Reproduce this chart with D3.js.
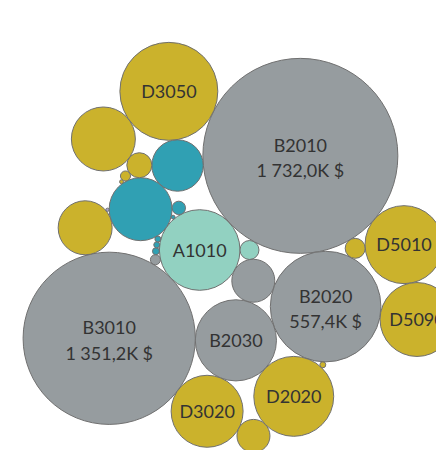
<!DOCTYPE html>
<html><head><meta charset="utf-8">
<script src="https://cdn.jsdelivr.net/npm/d3@7"></script>
<style>
body { margin: 0; background: #fff; }
.lbl { font-family: Lato, 'Open Sans', sans-serif; font-size: 18px; fill: #333; }
</style></head>
<body><svg id="chart" width="436" height="450"></svg>
<script>
// bubbles in layout order (sales in K $)
var names = ['A1010', 'A2010', 'B2010', 'B2015', 'B2020', 'B2030', 'B3010', 'B3020',
    'C1010', 'C1020', 'C1030', 'C2010', 'C2020', 'C3010', 'C4010',
    'D4010', 'D1030', 'D2020', 'D3050', 'D3020', 'D1020', 'D5010', 'D5090', 'D5020', 'D1010',
    'D2010', 'D2030', 'D2040', 'E1010'];
var sales = [296.0, 16.4, 1732.0, 84.2, 557.4, 300.0, 1351.2, 4.6,
    2.2, 1.6, 1.6, 180.7, 0.7, 8.2, 120.3,
    18.2, 132.8, 291.0, 437.0, 236.0, 28.5, 277.0, 249.0, 49.6, 186.5,
    4.6, 1.6, 0.7, 0.5];
var groups = ['A', 'B', 'C', 'D', 'E'];
var groupColors = ['#92d1c1', '#969c9f', '#30a0b3', '#cbb22c', '#a7a3cf'];

var color = d3.scaleOrdinal().domain(groups).range(groupColors);
var radius = d3.scaleSqrt().domain([0, d3.max(sales)]).range([0, 97.5]);

var fr = d3.formatLocale({ decimal: ',', thousands: '\u202f', grouping: [3], currency: ['', ''] });
var fmt = fr.format(',.1f');

// front-chain packing (after d3.packSiblings)
function place(b, a, c) {
    var dx = b.x - a.x, x, a2, dy = b.y - a.y, y, b2, d2 = dx * dx + dy * dy;
    a2 = a.r + c.r, a2 *= a2;
    b2 = b.r + c.r, b2 *= b2;
    if (a2 > b2) {
        x = (d2 + b2 - a2) / (2 * d2);
        y = Math.sqrt(Math.max(0, b2 / d2 - x * x));
        c.x = b.x - x * dx - y * dy;
        c.y = b.y - x * dy + y * dx;
    } else {
        x = (d2 + a2 - b2) / (2 * d2);
        y = Math.sqrt(Math.max(0, a2 / d2 - x * x));
        c.x = a.x + x * dx - y * dy;
        c.y = a.y + x * dy + y * dx;
    }
}

function intersects(a, b) {
    var dr = a.r + b.r - 1e-6, dx = b.x - a.x, dy = b.y - a.y;
    return dr > 0 && dr * dr > dx * dx + dy * dy;
}

function Node(c) { this._ = c; this.next = null; this.previous = null; }

function score(node, ox, oy) {
    var a = node._, b = node.next._, ab = a.r + b.r,
        dx = (a.x * b.r + b.x * a.r) / ab - ox,
        dy = (a.y * b.r + b.y * a.r) / ab - oy;
    return dx * dx + dy * dy;
}

function pack(circles, ringStart) {
    var n = circles.length, a = circles[0], b = circles[1], c, i, j, k, sj, sk;
    a.x = -a.r, b.x = b.r, a.y = b.y = 0;
    place(b, a, c = circles[2]);
    a = new Node(a), b = new Node(b), c = new Node(c);
    a.next = c.previous = b;
    b.next = a.previous = c;
    c.next = b.previous = a;

    pack: for (i = 3; i < n; ++i) {
        place(a._, b._, c = circles[i]), c = new Node(c);
        j = b.next, k = a.previous, sj = b._.r, sk = a._.r;
        do {
            if (sj <= sk) {
                if (intersects(j._, c._)) { b = j, a.next = b, b.previous = a, --i; continue pack; }
                sj += j._.r, j = j.next;
            } else {
                if (intersects(k._, c._)) { a = k, a.next = b, b.previous = a, --i; continue pack; }
                sk += k._.r, k = k.previous;
            }
        } while (j !== k.next);
        c.previous = a, c.next = b, a.next = b.previous = c;

        if (i + 1 >= ringStart) {
            // outer ring: fill the gap nearest the middle
            var best = a, bs = score(a, 0, 0), node = a.next, s;
            while (node !== a) {
                if ((s = score(node, 0, 0)) < bs) best = node, bs = s;
                node = node.next;
            }
            a = best, b = a.next;
        } else {
            // core: keep spiralling from the newest bubble
            var placed = circles.slice(0, i + 1);
            var ox = d3.mean(placed, function(d) { return d.x; });
            var oy = d3.mean(placed, function(d) { return d.y; });
            if (score(a, ox, oy) <= score(c, ox, oy)) b = c;
            else a = c;
        }
    }
    return circles;
}

var bubbles = names.map(function(d, i) {
    return { name: d, value: sales[i], grp: d.charAt(0), r: radius(sales[i]) };
});
pack(bubbles, names.findIndex(function(d) { return d.charAt(0) == 'D'; }));

var svg = d3.select('#chart');
var g = svg.append('g').attr('transform', 'translate(240,250)');

var node = g.selectAll('.bubble')
    .data(bubbles)
    .enter().append('g')
    .attr('class', 'bubble')
    .attr('transform', function(d) { return 'translate(' + d.x + ',' + (-d.y) + ')'; });

node.append('circle')
    .attr('r', function(d) { return d.r; })
    .attr('fill', function(d) { return color(d.grp); })
    .attr('stroke', '#707070')
    .attr('stroke-width', 1);

var named = node.filter(function(d) { return d.r > 34; });

named.append('text')
    .attr('class', 'lbl')
    .attr('text-anchor', 'middle')
    .attr('y', function(d) { return d.r > 52 ? -4 : 6.5; })
    .text(function(d) { return d.name; });

named.filter(function(d) { return d.r > 52; })
    .append('text')
    .attr('class', 'lbl')
    .attr('text-anchor', 'middle')
    .attr('y', 21.5)
    .text(function(d) { return fmt(d.value) + 'K\u202f$'; });
</script></body></html>
